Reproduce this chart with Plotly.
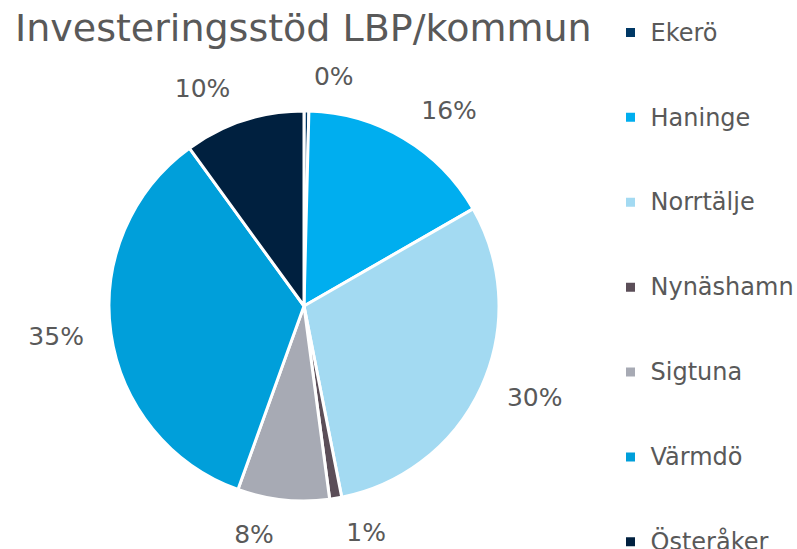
import plotly.graph_objects as go

title = "Investeringsstöd LBP/kommun"
kommuner = ["Ekerö", "Haninge", "Norrtälje", "Nynäshamn", "Sigtuna", "Värmdö", "Österåker"]
andel = [0.4, 16.3, 30.2, 1.0, 7.6, 34.5, 10.0]
farger = ["#003865", "#00AEEF", "#A3DAF2", "#5B4E58", "#A7AAB4", "#009FDA", "#00203F"]

W, H = 797, 549
cx, cy, r = 304, 306, 195
r_lab = 215


def dom(rad):
    return dict(x=[(cx - rad) / W, (cx + rad) / W], y=[(H - cy - rad) / H, (H - cy + rad) / H])


legend_labels = [f"&nbsp;<br><span style='font-size:24px'>{k}</span><br>&nbsp;" for k in kommuner]

fig = go.Figure()
# invisible larger pie carrying the percentage labels further out
fig.add_trace(go.Pie(
    labels=legend_labels,
    values=andel,
    sort=False,
    direction="clockwise",
    rotation=0,
    marker=dict(colors=["rgba(0,0,0,0)"] * len(andel), line=dict(width=0)),
    texttemplate="%{percent:.0%}",
    textposition="outside",
    textfont=dict(family="DejaVu Sans", size=25, color="#595959"),
    domain=dom(r_lab),
    hoverinfo="skip",
    showlegend=False,
))
fig.add_trace(go.Pie(
    labels=legend_labels,
    values=andel,
    sort=False,
    direction="clockwise",
    rotation=0,
    marker=dict(colors=farger, line=dict(color="white", width=3)),
    textinfo="none",
    domain=dom(r),
    hoverinfo="skip",
))

fig.update_layout(
    width=W, height=H,
    margin=dict(l=0, r=0, t=0, b=0, autoexpand=False),
    paper_bgcolor="white",
    plot_bgcolor="white",
    title=dict(text=title, x=15 / W, xanchor="left", y=1 - 28 / H, yanchor="middle",
               font=dict(family="DejaVu Sans", size=38, color="#595959")),
    legend=dict(x=0.766, y=1 + 15 / H, xanchor="left", yanchor="top",
                font=dict(family="DejaVu Sans", size=21, color="#595959"),
                valign="middle", itemclick=False, tracegroupgap=0, maxheight=800),
    showlegend=True,
)

fig.write_html("out.html", post_script="document.body.style.margin='0';",
               config={"displayModeBar": False})
